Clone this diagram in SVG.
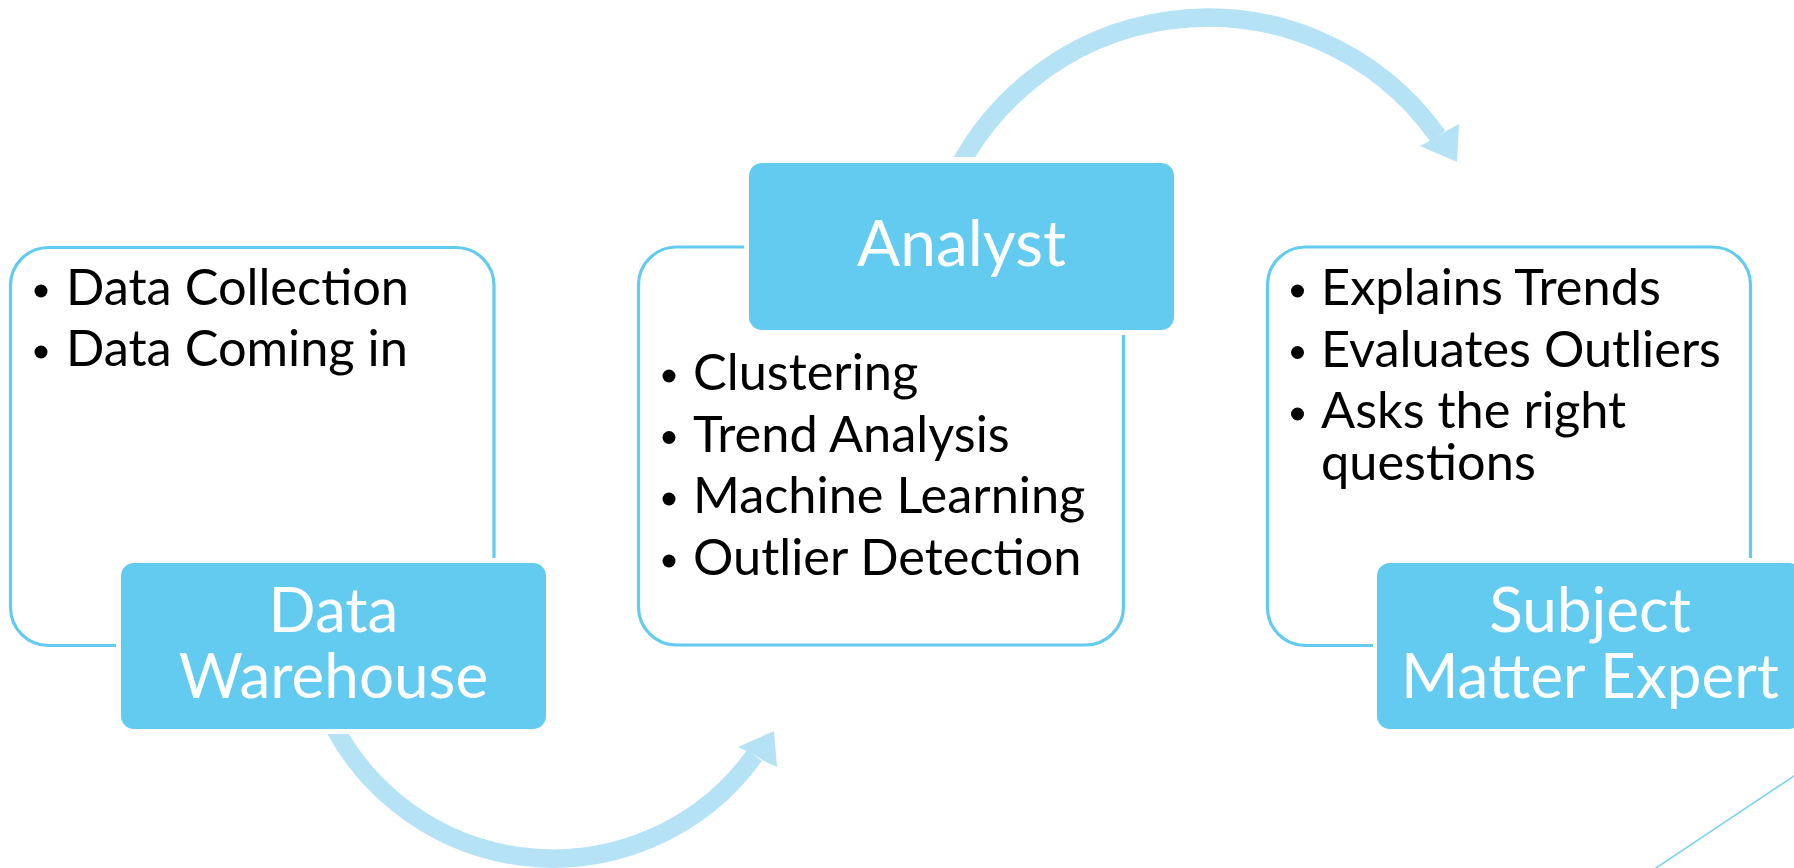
<svg xmlns="http://www.w3.org/2000/svg" width="1794" height="868" viewBox="0 0 1794 868">
<defs>
<style>
.outline{fill:none;stroke:#62CBEF;stroke-width:3.2}
.label{fill:#62CBEF}
.txt{font-family:Lato,"Open Sans","DejaVu Sans",sans-serif;font-size:50.5px;fill:#000}
.ltxt{font-family:Lato,"Open Sans","DejaVu Sans",sans-serif;font-size:62px;fill:#fff;text-anchor:middle}
.bul{fill:#000}
.arc{fill:none;stroke:#B5E3F5;stroke-width:18.5}
.head{fill:#B5E3F5}
</style>
<clipPath id="clipBottom"><rect x="0" y="734" width="1794" height="134"/></clipPath>
<clipPath id="clipTop"><rect x="0" y="0" width="1794" height="157"/></clipPath>
</defs>
<rect width="1794" height="868" fill="#fff"/>

<g id="connectors">
<path class="arc" clip-path="url(#clipBottom)" d="M 320 694.8 A 248 248 0 0 0 754.5 755.5"/>
<polygon class="head" points="774,731 738,747 749,752 766,762 777,767"/>
<path class="arc" clip-path="url(#clipTop)" d="M 943 203.1 A 282 282 0 0 1 1437.8 136.2"/>
<polygon class="head" points="1457,162 1420,146 1431,140 1448,130 1459,124"/>
</g>

<g id="node-data-warehouse">
<path class="outline" d="M 116 645.5 H 48.5 A 38 38 0 0 1 10.5 607.5 V 285.5 A 38 38 0 0 1 48.5 247.5 H 456 A 38 38 0 0 1 494 285.5 V 558"/>
<circle class="bul" cx="41" cy="291" r="6.5"/>
<circle class="bul" cx="41" cy="352" r="6.5"/>
<text class="txt" x="66" y="305">Data Collection</text>
<text class="txt" x="66" y="366">Data Coming in</text>
<rect class="label" x="121" y="563" width="425" height="166" rx="13"/>
<text class="ltxt" x="333.5" y="632">Data</text>
<text class="ltxt" x="333.5" y="698">Warehouse</text>
</g>

<g id="node-analyst">
<path class="outline" d="M 744 247 H 676.5 A 38 38 0 0 0 638.5 285 V 607 A 38 38 0 0 0 676.5 645 H 1085.5 A 38 38 0 0 0 1123.5 607 V 335"/>
<rect class="label" x="749" y="163" width="425" height="167" rx="13"/>
<text class="ltxt" x="961.5" y="266" style="font-size:64px">Analyst</text>
<circle class="bul" cx="669" cy="376" r="6.5"/>
<circle class="bul" cx="669" cy="437.5" r="6.5"/>
<circle class="bul" cx="669" cy="499" r="6.5"/>
<circle class="bul" cx="669" cy="561" r="6.5"/>
<text class="txt" x="693" y="390">Clustering</text>
<text class="txt" x="693" y="451.5">Trend Analysis</text>
<text class="txt" x="693" y="513">Machine Learning</text>
<text class="txt" x="693" y="575">Outlier Detection</text>
</g>

<g id="node-sme">
<path class="outline" d="M 1373 645.5 H 1305.5 A 38 38 0 0 1 1267.5 607.5 V 285 A 38 38 0 0 1 1305.5 247 H 1712.5 A 38 38 0 0 1 1750.5 285 V 558"/>
<circle class="bul" cx="1297.5" cy="291" r="6.5"/>
<circle class="bul" cx="1297.5" cy="352.5" r="6.5"/>
<circle class="bul" cx="1297.5" cy="414" r="6.5"/>
<text class="txt" x="1321" y="305">Explains Trends</text>
<text class="txt" x="1321" y="366.5">Evaluates Outliers</text>
<text class="txt" x="1321" y="428">Asks the right</text>
<text class="txt" x="1321" y="480">questions</text>
<rect class="label" x="1377" y="563" width="425" height="166" rx="13"/>
<text class="ltxt" x="1590" y="632">Subject</text>
<text class="ltxt" x="1590" y="698">Matter Expert</text>
</g>

<line x1="1650" y1="872" x2="1800" y2="772" stroke="#7FD3EF" stroke-width="1.6"/>
</svg>
